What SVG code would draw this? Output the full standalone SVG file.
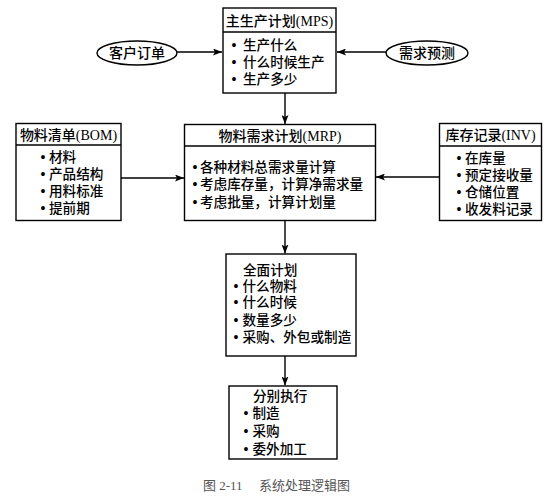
<svg xmlns="http://www.w3.org/2000/svg" width="547" height="500" viewBox="0 0 547 500">
<style>
.box{fill:#fff;stroke:#000;stroke-width:1.4}
.ln{stroke:#000;stroke-width:1.4;fill:none}
text{font-family:"Liberation Serif","Noto Sans CJK SC",serif;font-size:13.6px;font-weight:500;fill:#000}
.t{text-anchor:middle;font-size:14px}
.b{text-anchor:middle;font-weight:bold;font-size:14px}
.cap{font-size:13px;font-weight:400;fill:#555}
</style>
<defs>
<marker id="ah" markerWidth="9" markerHeight="7" refX="9" refY="3.5" orient="auto" markerUnits="userSpaceOnUse">
<path d="M0,0 L9,3.5 L0,7 L2,3.5 Z" fill="#000"/>
</marker>
</defs>
<rect width="547" height="500" fill="#fff"/>
<g id="mps">
<rect class="box" x="223" y="8" width="113" height="85"/>
<line class="ln" x1="223" y1="32" x2="336" y2="32"/>
<text class="t" x="279.5" y="26">主生产计划(MPS)</text>
<text class="b" x="234" y="50">•</text><text x="243" y="50">生产什么</text>
<text class="b" x="234" y="66.5">•</text><text x="243" y="66.5">什么时候生产</text>
<text class="b" x="234" y="84">•</text><text x="243" y="84">生产多少</text>
</g>
<g id="order">
<ellipse class="box" cx="137" cy="53" rx="40" ry="12"/>
<text class="t" x="137" y="58">客户订单</text>
</g>
<g id="forecast">
<ellipse class="box" cx="427" cy="53" rx="41" ry="12"/>
<text class="t" x="427" y="58">需求预测</text>
</g>
<g id="bom">
<rect class="box" x="16" y="123.5" width="105" height="97"/>
<line class="ln" x1="16" y1="145" x2="121" y2="145"/>
<text class="t" x="68.5" y="139.5">物料清单(BOM)</text>
<text class="b" x="43" y="161.5">•</text><text x="49" y="161.5">材料</text>
<text class="b" x="43" y="178.5">•</text><text x="49" y="178.5">产品结构</text>
<text class="b" x="43" y="195.5">•</text><text x="49" y="195.5">用料标准</text>
<text class="b" x="43" y="213">•</text><text x="49" y="213">提前期</text>
</g>
<g id="mrp">
<rect class="box" x="184.5" y="124.5" width="191" height="96"/>
<line class="ln" x1="184.5" y1="146" x2="375.5" y2="146"/>
<text class="t" x="280" y="140.5">物料需求计划(MRP)</text>
<text class="b" x="195" y="171.5">•</text><text x="200" y="171.5">各种材料总需求量计算</text>
<text class="b" x="195" y="189">•</text><text x="200" y="189">考虑库存量，计算净需求量</text>
<text class="b" x="195" y="206.5">•</text><text x="200" y="206.5">考虑批量，计算计划量</text>
</g>
<g id="inv">
<rect class="box" x="439.5" y="123.5" width="102" height="97"/>
<line class="ln" x1="439.5" y1="146" x2="541.5" y2="146"/>
<text class="t" x="490.5" y="139.5">库存记录(INV)</text>
<text class="b" x="459" y="163">•</text><text x="465" y="163">在库量</text>
<text class="b" x="459" y="180">•</text><text x="465" y="180">预定接收量</text>
<text class="b" x="459" y="196.5">•</text><text x="465" y="196.5">仓储位置</text>
<text class="b" x="459" y="214">•</text><text x="465" y="214">收发料记录</text>
</g>
<g id="plan">
<rect class="box" x="226" y="254" width="130" height="102"/>
<text x="243" y="274.5">全面计划</text>
<text class="b" x="236" y="290.5">•</text><text x="242.5" y="290.5">什么物料</text>
<text class="b" x="236" y="307">•</text><text x="242.5" y="307">什么时候</text>
<text class="b" x="236" y="324.5">•</text><text x="242.5" y="324.5">数量多少</text>
<text class="b" x="236" y="342">•</text><text x="242.5" y="342">采购、外包或制造</text>
</g>
<g id="exec">
<rect class="box" x="229" y="386" width="108" height="73"/>
<text x="253" y="401">分别执行</text>
<text class="b" x="246" y="418">•</text><text x="252.5" y="418">制造</text>
<text class="b" x="246" y="436">•</text><text x="252.5" y="436">采购</text>
<text class="b" x="246" y="454">•</text><text x="252.5" y="454">委外加工</text>
</g>
<g id="connectors">
<line class="ln" x1="177" y1="52" x2="222" y2="52" marker-end="url(#ah)"/>
<line class="ln" x1="386" y1="52" x2="337" y2="52" marker-end="url(#ah)"/>
<line class="ln" x1="285" y1="93" x2="285" y2="124" marker-end="url(#ah)"/>
<line class="ln" x1="121" y1="178" x2="184" y2="178" marker-end="url(#ah)"/>
<line class="ln" x1="439" y1="177" x2="376" y2="177" marker-end="url(#ah)"/>
<line class="ln" x1="285" y1="221" x2="285" y2="253.5" marker-end="url(#ah)"/>
<line class="ln" x1="285" y1="356" x2="285" y2="385.5" marker-end="url(#ah)"/>
</g>
<text class="cap" x="203" y="489.5">图 2-11<tspan x="259">系统处理逻辑图</tspan></text>
</svg>
